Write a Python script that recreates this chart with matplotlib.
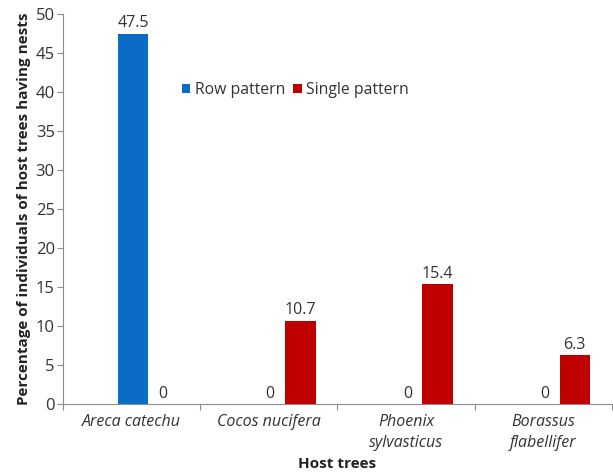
import numpy as np
import matplotlib
matplotlib.use('Agg')
import matplotlib.pyplot as plt

# nesting of host trees by pattern
hosts = ['Areca catechu', 'Cocos nucifera', 'Phoenix\nsylvasticus', 'Borassus\nflabellifer']
row_pattern = [47.5, 0, 0, 0]
single_pattern = [0, 10.7, 15.4, 6.3]

blue = '#0A6CC4'
red = '#C00000'
grey = '#8C8C8C'
text_col = '#333333'

plt.rcParams['font.family'] = ['Open Sans', 'DejaVu Sans']

fig = plt.figure(figsize=(6.13, 4.72), dpi=100)
ax = fig.add_axes([0.103, 0.144, 0.895, 0.826])

x = np.arange(len(hosts))
width = 0.22
ax.bar(x + 0.01, row_pattern, width, color=blue, label='Row pattern')
ax.bar(x + 0.23, single_pattern, width, color=red, label='Single pattern')

for xi, v in zip(x + 0.01, row_pattern):
    ax.text(xi, v + 0.3, '%g' % v, ha='center', va='bottom', fontsize=11.5, color=text_col)
for xi, v in zip(x + 0.23, single_pattern):
    ax.text(xi, v + 0.3, '%g' % v, ha='center', va='bottom', fontsize=11.5, color=text_col)

ax.set_xlim(-0.5, 3.5)
ax.set_ylim(0, 50)
ax.set_yticks(np.arange(0, 51, 5))
ax.tick_params(axis='y', labelsize=12, colors=grey, labelcolor=text_col,
               direction='out', length=4, pad=2)

# category separators as major ticks, names as minor ticks
ax.set_xticks([-0.5, 0.5, 1.5, 2.5, 3.5])
ax.set_xticklabels([])
ax.set_xticks(x, minor=True)
ax.set_xticklabels(hosts, minor=True, style='italic', fontsize=11.5, color=text_col,
                   linespacing=1.45)
ax.tick_params(axis='x', which='major', direction='out', length=4, colors=grey)
ax.tick_params(axis='x', which='minor', length=0, pad=7)

for s in ['top', 'right']:
    ax.spines[s].set_visible(False)
for s in ['left', 'bottom']:
    ax.spines[s].set_color(grey)

ax.set_xlabel('Host trees', fontsize=11, fontweight='bold', labelpad=4, color='#222222')
ax.set_ylabel('Percentage of individuals of host trees having nests',
              fontsize=11, fontweight='bold', labelpad=3, color='#222222')

ax.legend(loc='center left', bbox_to_anchor=(0.19, 0.805), ncol=2, frameon=False,
          fontsize=11.3, handlelength=0.55, handleheight=0.55, handletextpad=0.3,
          columnspacing=0.5, labelcolor=text_col)

fig.savefig('out.png', dpi=100)
